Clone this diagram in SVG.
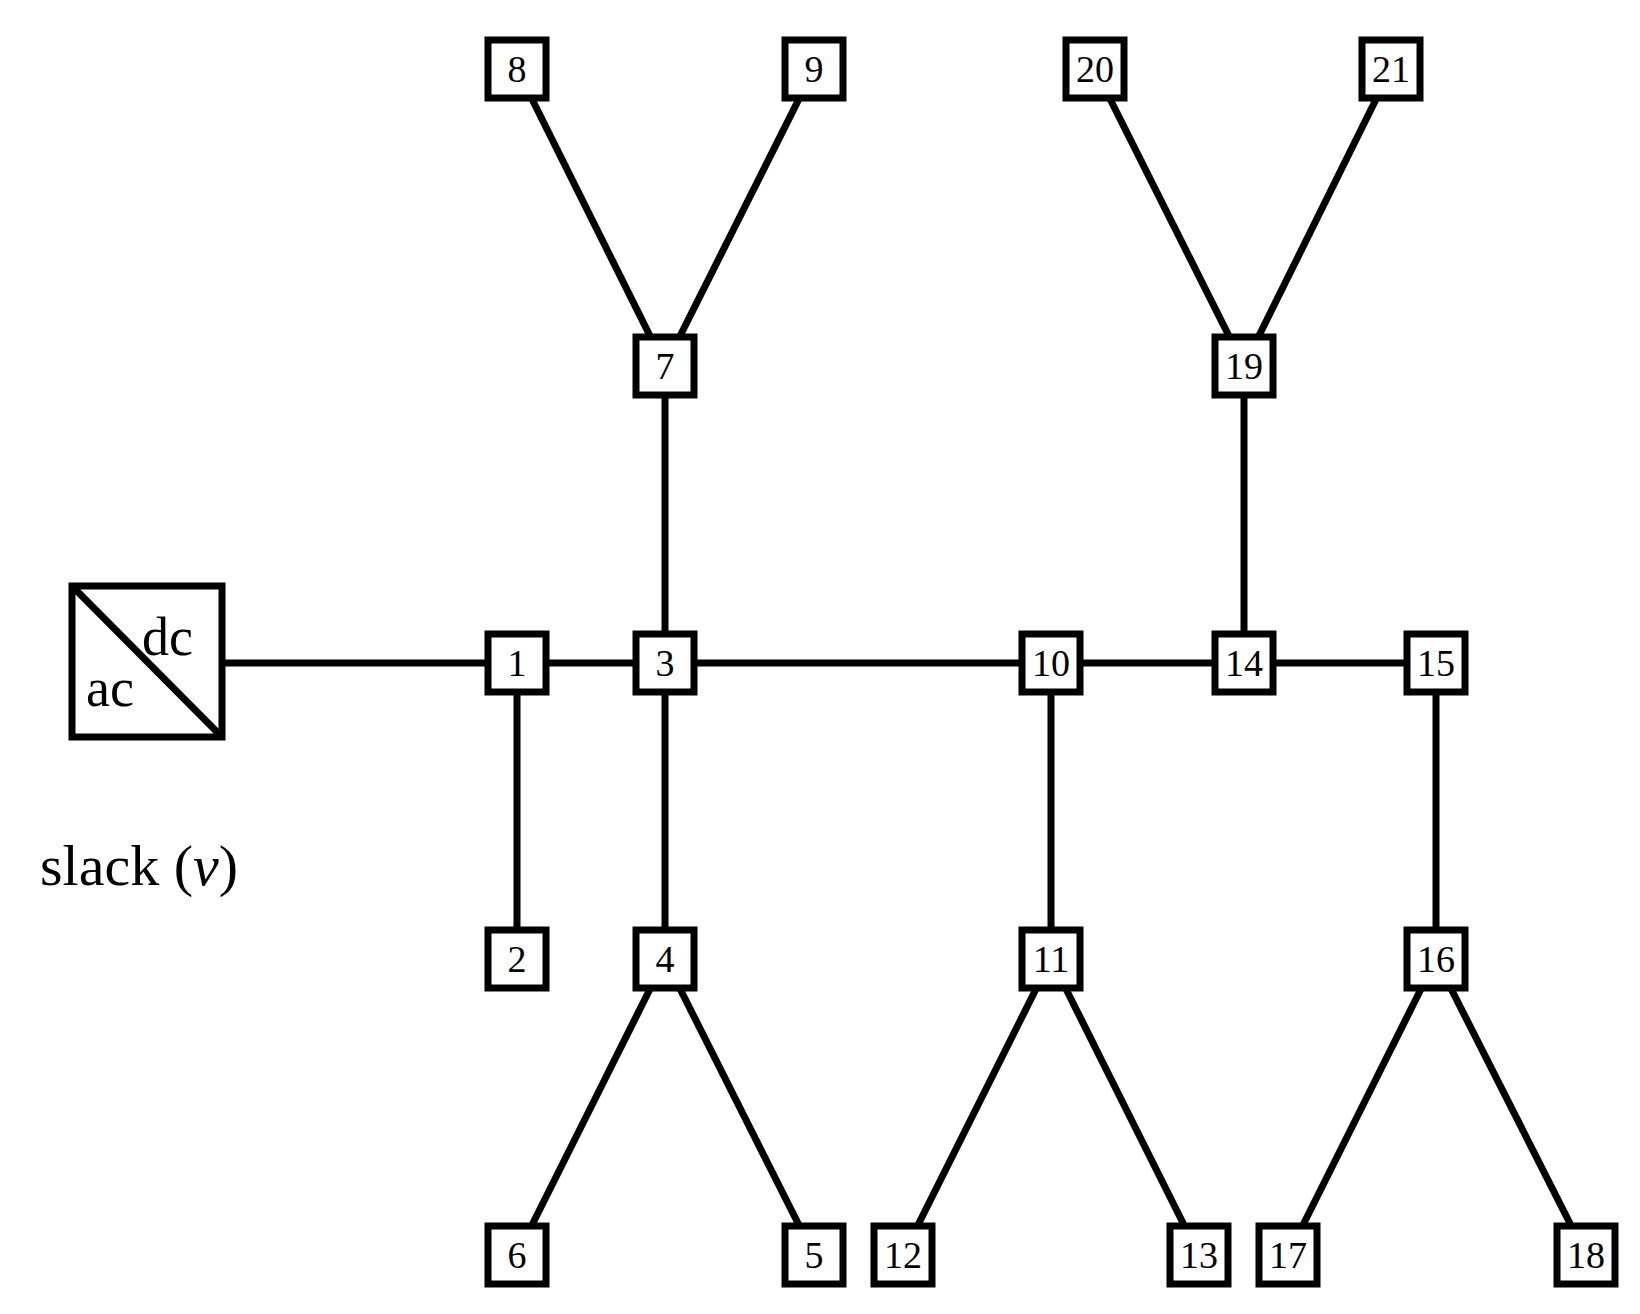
<svg xmlns="http://www.w3.org/2000/svg" width="1640" height="1314" viewBox="0 0 1640 1314">
<style>
.e{stroke:#000;stroke-width:7;fill:none}
.n rect{fill:#fff;stroke:#000;stroke-width:7}
.n text{font-family:"Liberation Serif",serif;font-size:38px;text-anchor:middle}
.t{font-family:"Liberation Serif",serif}
</style>
<rect width="1640" height="1314" fill="#fff"/>
<g id="connectors" class="e">
<line x1="222" y1="663" x2="517" y2="663"/>
<line x1="517" y1="663" x2="1436" y2="663"/>
<line x1="517" y1="663" x2="517" y2="959"/>
<line x1="665" y1="366" x2="665" y2="959"/>
<line x1="1051" y1="663" x2="1051" y2="959"/>
<line x1="1244" y1="366" x2="1244" y2="663"/>
<line x1="1436" y1="663" x2="1436" y2="959"/>
<line x1="517" y1="69" x2="665" y2="366"/>
<line x1="814" y1="69" x2="665" y2="366"/>
<line x1="1095" y1="69" x2="1244" y2="366"/>
<line x1="1391" y1="69" x2="1244" y2="366"/>
<line x1="665" y1="959" x2="517" y2="1255"/>
<line x1="665" y1="959" x2="814" y2="1255"/>
<line x1="1051" y1="959" x2="903" y2="1255"/>
<line x1="1051" y1="959" x2="1199" y2="1255"/>
<line x1="1436" y1="959" x2="1288" y2="1255"/>
<line x1="1436" y1="959" x2="1586" y2="1255"/>
</g>
<g id="converter">
<rect x="72" y="586" width="150" height="151" fill="#fff" stroke="#000" stroke-width="7"/>
<line x1="72" y1="586" x2="222" y2="737" stroke="#000" stroke-width="7"/>
<text class="t" x="142" y="655" font-size="54">dc</text>
<text class="t" x="86" y="706" font-size="54">ac</text>
</g>
<text id="slack" class="t" x="40" y="885" font-size="58">slack (<tspan font-style="italic">v</tspan>)</text>
<g id="n1" class="n"><rect x="488" y="634" width="58" height="58"/><text x="517" y="676">1</text></g>
<g id="n2" class="n"><rect x="488" y="930" width="58" height="58"/><text x="517" y="972">2</text></g>
<g id="n3" class="n"><rect x="636" y="634" width="58" height="58"/><text x="665" y="676">3</text></g>
<g id="n4" class="n"><rect x="636" y="930" width="58" height="58"/><text x="665" y="972">4</text></g>
<g id="n5" class="n"><rect x="785" y="1226" width="58" height="58"/><text x="814" y="1268">5</text></g>
<g id="n6" class="n"><rect x="488" y="1226" width="58" height="58"/><text x="517" y="1268">6</text></g>
<g id="n7" class="n"><rect x="636" y="337" width="58" height="58"/><text x="665" y="379">7</text></g>
<g id="n8" class="n"><rect x="488" y="40" width="58" height="58"/><text x="517" y="82">8</text></g>
<g id="n9" class="n"><rect x="785" y="40" width="58" height="58"/><text x="814" y="82">9</text></g>
<g id="n10" class="n"><rect x="1022" y="634" width="58" height="58"/><text x="1051" y="676">10</text></g>
<g id="n11" class="n"><rect x="1022" y="930" width="58" height="58"/><text x="1051" y="972">11</text></g>
<g id="n12" class="n"><rect x="874" y="1226" width="58" height="58"/><text x="903" y="1268">12</text></g>
<g id="n13" class="n"><rect x="1170" y="1226" width="58" height="58"/><text x="1199" y="1268">13</text></g>
<g id="n14" class="n"><rect x="1215" y="634" width="58" height="58"/><text x="1244" y="676">14</text></g>
<g id="n15" class="n"><rect x="1407" y="634" width="58" height="58"/><text x="1436" y="676">15</text></g>
<g id="n16" class="n"><rect x="1407" y="930" width="58" height="58"/><text x="1436" y="972">16</text></g>
<g id="n17" class="n"><rect x="1259" y="1226" width="58" height="58"/><text x="1288" y="1268">17</text></g>
<g id="n18" class="n"><rect x="1557" y="1226" width="58" height="58"/><text x="1586" y="1268">18</text></g>
<g id="n19" class="n"><rect x="1215" y="337" width="58" height="58"/><text x="1244" y="379">19</text></g>
<g id="n20" class="n"><rect x="1066" y="40" width="58" height="58"/><text x="1095" y="82">20</text></g>
<g id="n21" class="n"><rect x="1362" y="40" width="58" height="58"/><text x="1391" y="82">21</text></g>
</svg>
